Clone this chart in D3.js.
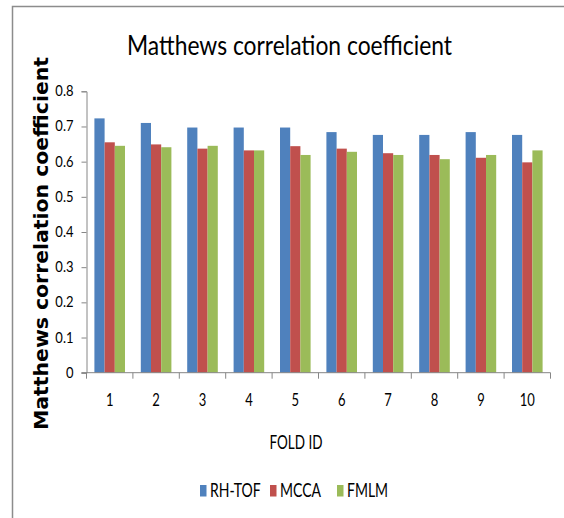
<!DOCTYPE html>
<html>
<head>
<meta charset="utf-8">
<script src="https://cdn.jsdelivr.net/npm/d3@7"></script>
<style>
  html, body { margin: 0; padding: 0; background: #fff; }
  svg { display: block; }
</style>
</head>
<body>
<svg id="chart" width="564" height="518"></svg>
<script>
// Fold identifiers and per-fold scores for each method
const folds = ["1", "2", "3", "4", "5", "6", "7", "8", "9", "10"];
const seriesNames = ["RH-TOF", "MCCA", "FMLM"];
const rhTof = [0.723, 0.710, 0.697, 0.697, 0.697, 0.684, 0.676, 0.676, 0.684, 0.676];
const mcca  = [0.655, 0.649, 0.637, 0.632, 0.644, 0.637, 0.624, 0.619, 0.611, 0.598];
const fmlm  = [0.645, 0.641, 0.645, 0.632, 0.619, 0.628, 0.619, 0.607, 0.619, 0.632];
const yTicks = [0, 0.1, 0.2, 0.3, 0.4, 0.5, 0.6, 0.7, 0.8];
const colors = ["#4F81BD", "#C0504D", "#9BBB59"];

const seriesValues = [rhTof, mcca, fmlm];
const svg = d3.select("#chart");
const font = "Lato, 'Open Sans', sans-serif";

// outer frame
svg.append("path")
  .attr("d", "M12.5,518 V6.5 H564")
  .attr("fill", "none")
  .attr("stroke", "#8c8c8c")
  .attr("stroke-width", 1.5);

const plot = { left: 86.5, right: 550.5, top: 91.3, bottom: 372.7 };

const x = d3.scaleBand().domain(folds).range([plot.left, plot.right]).paddingInner(0).paddingOuter(0);
const xs = d3.scaleBand().domain(seriesNames).range([0, x.bandwidth()]).paddingInner(0).paddingOuter(0.775);
const y = d3.scaleLinear().domain([0, 0.8]).range([plot.bottom, plot.top]);

// bars
const groups = svg.append("g").selectAll("g")
  .data(folds)
  .join("g")
  .attr("transform", d => `translate(${x(d)},0)`);

groups.selectAll("rect")
  .data((d, i) => seriesNames.map((s, k) => ({ s, k, v: seriesValues[k][i] })))
  .join("rect")
  .attr("x", d => xs(d.s))
  .attr("width", xs.bandwidth())
  .attr("y", d => y(d.v))
  .attr("height", d => y(0) - y(d.v))
  .attr("fill", d => colors[d.k]);

// y axis
const yAxis = d3.axisLeft(y).tickValues(yTicks).tickSize(5).tickFormat(d => d === 0 ? "0" : d3.format(".1f")(d));
const gy = svg.append("g").attr("transform", `translate(${plot.left},0)`).call(yAxis);
gy.select(".domain").attr("stroke", "#868686");
gy.selectAll(".tick line").attr("stroke", "#868686");
gy.selectAll(".tick text").remove();
gy.selectAll(".tick").append("text")
  .attr("transform", "translate(-13,4.5) scale(1,1.2)")
  .attr("text-anchor", "end")
  .attr("font-family", font)
  .attr("font-size", 13)
  .attr("fill", "#000")
  .text(d => d === 0 ? "0" : d3.format(".1f")(d));

// x axis
const gx = svg.append("g").attr("transform", `translate(0,${plot.bottom})`);
gx.append("line").attr("x1", plot.left - 5).attr("x2", plot.right).attr("stroke", "#868686");
gx.selectAll("line.tk")
  .data(folds.map(f => x(f)).concat([plot.right]))
  .join("line")
  .attr("class", "tk")
  .attr("x1", d => d).attr("x2", d => d)
  .attr("y1", 0).attr("y2", 6)
  .attr("stroke", "#868686");
gx.selectAll("text")
  .data(folds)
  .join("text")
  .attr("transform", d => `translate(${x(d) + x.bandwidth() / 2},33) scale(1,1.3)`)
  .attr("text-anchor", "middle")
  .attr("font-family", font)
  .attr("font-size", 13)
  .text(d => d);

// title
svg.append("text")
  .attr("x", 289.5).attr("y", 55)
  .attr("text-anchor", "middle")
  .attr("font-family", font)
  .attr("font-size", 27)
  .attr("textLength", 325).attr("lengthAdjust", "spacingAndGlyphs")
  .text("Matthews correlation coefficient");

// y axis title
svg.append("text")
  .attr("transform", "translate(48,243.5) rotate(-90)")
  .attr("text-anchor", "middle")
  .attr("font-family", "'DejaVu Sans', sans-serif")
  .attr("font-weight", "bold")
  .attr("font-size", 20)
  .attr("textLength", 373).attr("lengthAdjust", "spacingAndGlyphs")
  .text("Matthews correlation coefficient");

// x axis title
svg.append("text")
  .attr("transform", "translate(296,449) scale(1,1.35)")
  .attr("text-anchor", "middle")
  .attr("font-family", font)
  .attr("font-size", 14)
  .attr("textLength", 53).attr("lengthAdjust", "spacingAndGlyphs")
  .text("FOLD ID");

// legend
const legendX = [200, 270, 337];
const lg = svg.append("g").selectAll("g")
  .data(seriesNames)
  .join("g")
  .attr("transform", (d, i) => `translate(${legendX[i]},0)`);
lg.append("rect").attr("x", 0).attr("y", 485).attr("width", 6.5).attr("height", 11.5).attr("fill", (d, i) => colors[i]);
lg.append("text")
  .attr("transform", "translate(10,497) scale(1,1.4)")
  .attr("font-family", font)
  .attr("font-size", 14)
  .text(d => d);
</script>
</body>
</html>
